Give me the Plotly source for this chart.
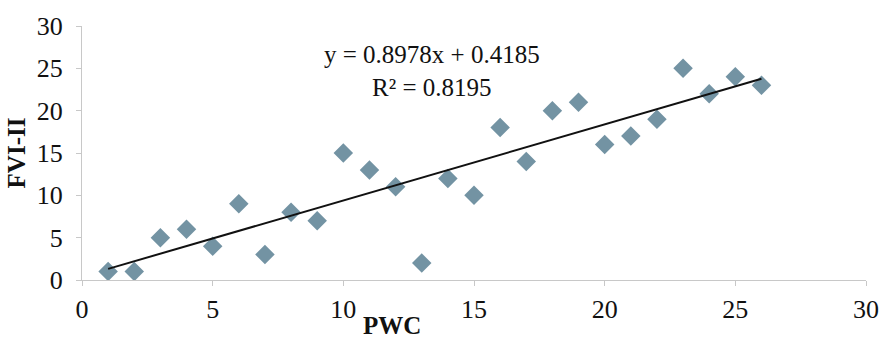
import numpy as np
import plotly.graph_objects as go

# PWC vs FVI-II observations
pwc = [1, 2, 3, 4, 5, 6, 7, 8, 9, 10, 11, 12, 13, 14, 15, 16, 17, 18, 19, 20, 21, 22, 23, 24, 25, 26]
fvi = [1, 1, 5, 6, 4, 9, 3, 8, 7, 15, 13, 11, 2, 12, 10, 18, 14, 20, 21, 16, 17, 19, 25, 22, 24, 23]

# Linear trend coefficients as reported on the chart
slope = 0.8978
intercept = 0.4185
r_squared = 0.8195

x_fit = np.array([min(pwc), max(pwc)], dtype=float)
y_fit = slope * x_fit + intercept

serif = "Liberation Serif, Times New Roman, serif"

fig = go.Figure()
fig.add_trace(go.Scatter(
    x=pwc, y=fvi, mode="markers",
    marker=dict(symbol="diamond", size=15, color="#7393a3",
                line=dict(width=0)),
    showlegend=False,
))
fig.add_trace(go.Scatter(
    x=x_fit, y=y_fit, mode="lines",
    line=dict(color="#111111", width=2),
    showlegend=False,
))

fig.add_annotation(
    x=0.447, y=0.95, xref="paper", yref="paper",
    text=f"y = {slope}x + {intercept}<br>R² = {r_squared}",
    showarrow=False, align="center",
    font=dict(family=serif, size=25, color="#111111"),
)
fig.add_annotation(
    x=0.396, y=-0.18, xref="paper", yref="paper", yanchor="middle",
    text="<b>PWC</b>", showarrow=False,
    font=dict(family=serif, size=25, color="#111111"),
)

axis_common = dict(
    showgrid=False, zeroline=False, showline=True,
    linecolor="#c8c8c8", linewidth=1,
    ticks="outside", ticklen=5, tickcolor="#c8c8c8",
    tickfont=dict(family=serif, size=26, color="#111111"),
)
fig.update_xaxes(range=[0, 30], dtick=5, ticklabelstandoff=1, **axis_common)
fig.update_yaxes(range=[0, 30], dtick=5, ticklabelstandoff=8,
                 title=dict(text="<b>FVI-II</b>", standoff=4,
                            font=dict(family=serif, size=25, color="#111111")),
                 **axis_common)

fig.update_layout(
    width=891, height=342,
    margin=dict(l=82, r=15, t=22, b=62),
    paper_bgcolor="white", plot_bgcolor="white",
)

fig.write_html("out.html")
